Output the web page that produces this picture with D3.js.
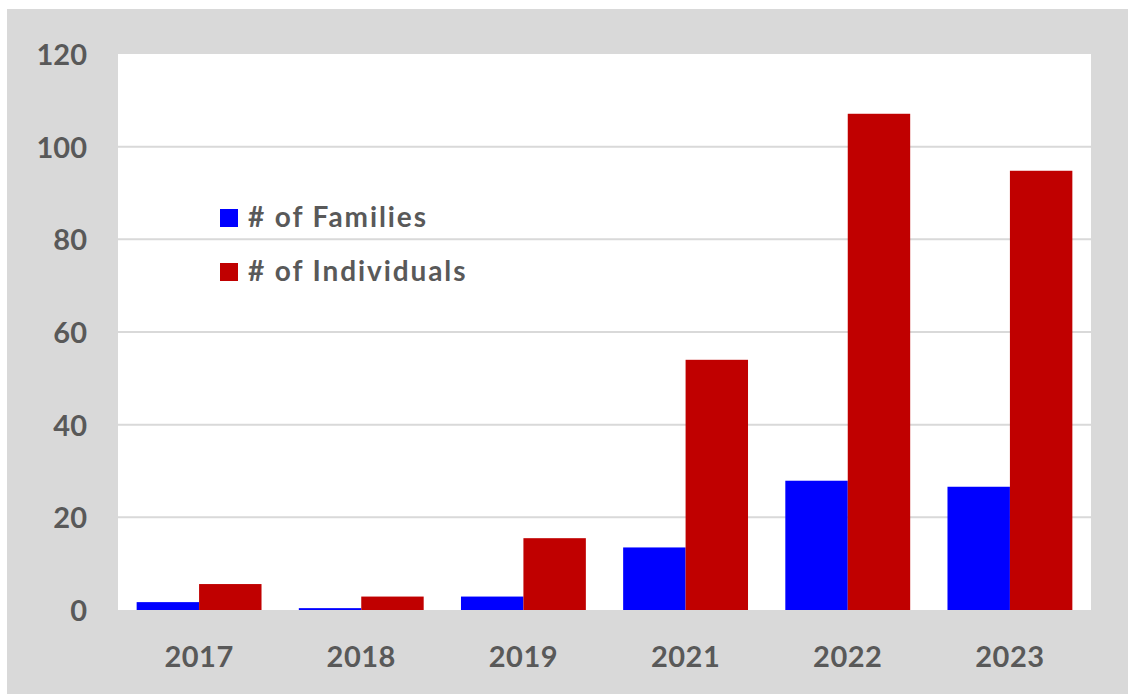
<!DOCTYPE html>
<html>
<head>
<meta charset="utf-8">
<script src="https://cdn.jsdelivr.net/npm/d3@7/dist/d3.min.js"></script>
<style>
  html, body { margin: 0; padding: 0; background: #ffffff; }
  svg { display: block; }
</style>
</head>
<body>
<svg id="chart" width="1128" height="694"></svg>
<script>
const categories = ["2017", "2018", "2019", "2021", "2022", "2023"];
const families = [1.7, 0.4, 2.9, 13.5, 27.9, 26.6];
const individuals = [5.6, 2.9, 15.5, 54.0, 107.1, 94.8];
const seriesNames = ["# of Families", "# of Individuals"];
const seriesColors = ["#0000ff", "#c00000"];
const yTicks = [0, 20, 40, 60, 80, 100, 120];

const svg = d3.select("#chart");
const W = 1128, H = 694;
const plot = { left: 118, right: 1091, top: 54, bottom: 610 };
const textColor = "#595959";
const font = "Lato, 'Open Sans', 'Liberation Sans', sans-serif";

// outer background
svg.append("rect").attr("x", 7).attr("y", 9).attr("width", W - 7).attr("height", H - 9).attr("fill", "#d9d9d9");
// plot area
svg.append("rect").attr("x", plot.left).attr("y", plot.top)
  .attr("width", plot.right - plot.left).attr("height", plot.bottom - plot.top).attr("fill", "#ffffff");

const x = d3.scaleBand().domain(categories).range([plot.left, plot.right]).paddingInner(0.23).paddingOuter(0.115);
const x1 = d3.scaleBand().domain(seriesNames).range([0, x.bandwidth()]).padding(0);
const y = d3.scaleLinear().domain([0, 120]).range([plot.bottom, plot.top]);

// gridlines
svg.append("g").selectAll("line").data(yTicks.filter(t => t > 0 && t < 120)).join("line")
  .attr("x1", plot.left).attr("x2", plot.right)
  .attr("y1", d => y(d)).attr("y2", d => y(d))
  .attr("stroke", "#d9d9d9").attr("stroke-width", 2);

// y axis
const yAxis = d3.axisLeft(y).tickValues(yTicks).tickSize(0).tickPadding(0);
const gy = svg.append("g").attr("transform", `translate(87,0)`).call(yAxis);
gy.select(".domain").remove();
gy.selectAll("text").attr("fill", textColor).attr("font-family", font)
  .attr("font-weight", 700).attr("font-size", 29).attr("dy", "0.36em");

// x axis
const xAxis = d3.axisBottom(x).tickSize(0).tickPadding(0);
const gx = svg.append("g").attr("transform", `translate(0,${plot.bottom})`).call(xAxis);
gx.select(".domain").remove();
gx.selectAll("text").attr("fill", textColor).attr("font-family", font)
  .attr("font-weight", 700).attr("font-size", 29).attr("y", 57).attr("dy", 0)
  .attr("letter-spacing", 0.5);

// bars
const rows = categories.map((c, i) => ({ cat: c, vals: [families[i], individuals[i]] }));
const groups = svg.append("g").selectAll("g").data(rows).join("g")
  .attr("transform", d => `translate(${x(d.cat)},0)`);
groups.selectAll("rect").data(d => d.vals.map((v, j) => ({ name: seriesNames[j], v, j }))).join("rect")
  .attr("x", d => x1(d.name)).attr("width", x1.bandwidth())
  .attr("y", d => y(d.v)).attr("height", d => y(0) - y(d.v))
  .attr("fill", d => seriesColors[d.j]);

// legend
const legend = svg.append("g");
seriesNames.forEach((name, i) => {
  const ly = 218 + i * 54;
  legend.append("rect").attr("x", 220).attr("y", ly - 9).attr("width", 18).attr("height", 18).attr("fill", seriesColors[i]);
  legend.append("text").attr("x", 248).attr("y", ly + 9)
    .attr("fill", textColor).attr("font-family", font).attr("font-weight", 700).attr("font-size", 28)
    .attr("letter-spacing", 1.9)
    .text(name);
});
</script>
</body>
</html>
